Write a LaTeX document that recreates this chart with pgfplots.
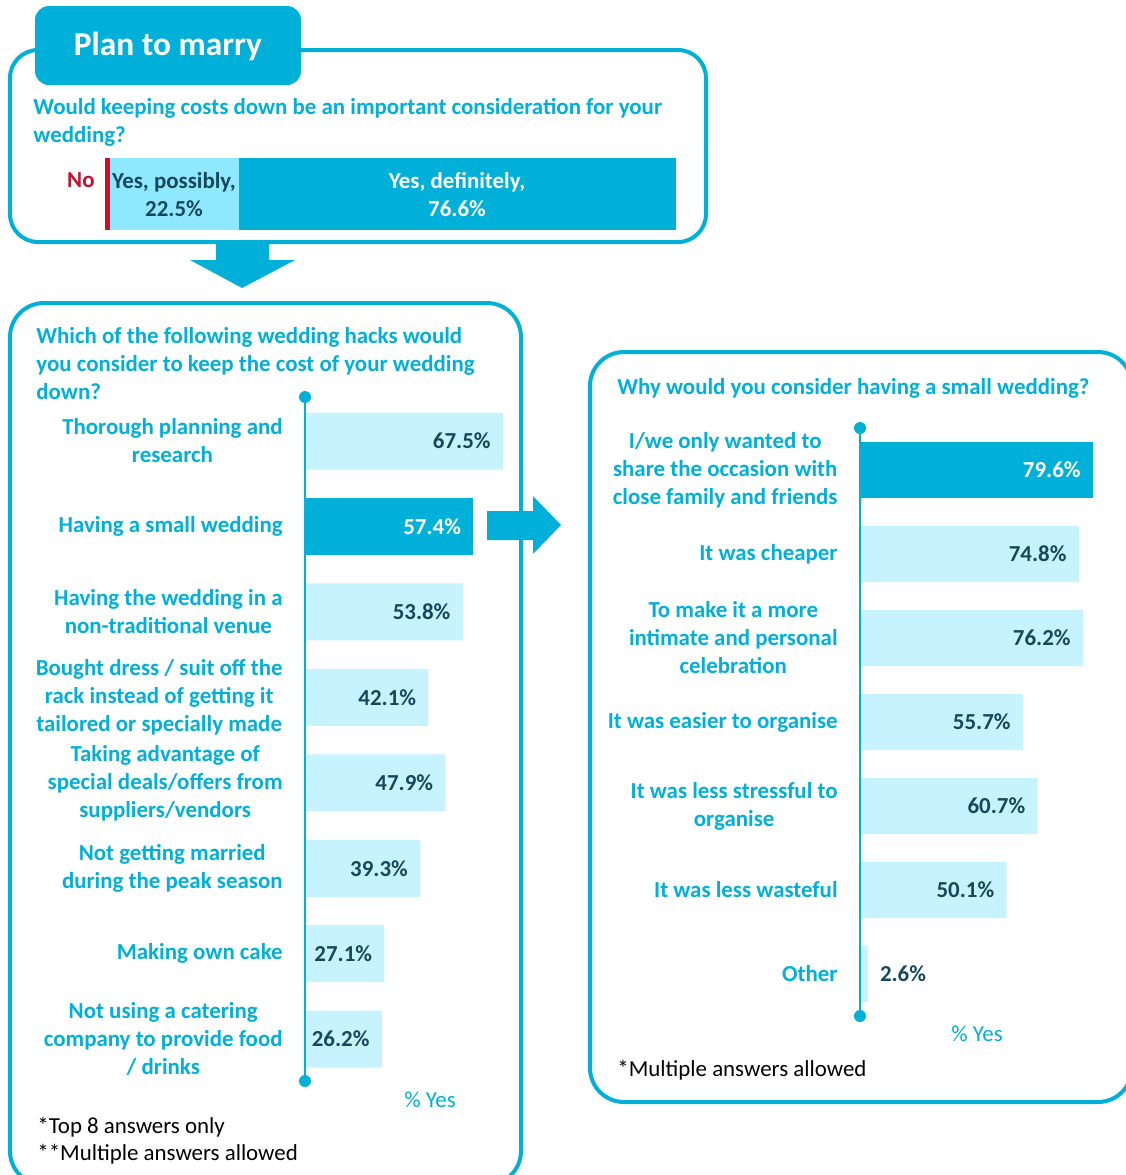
\documentclass[border=0pt]{standalone}
\usepackage{fontspec}
\setmainfont{Carlito}
\usepackage{pgfplots}
\pgfplotsset{compat=1.18}
\definecolor{cy}{RGB}{0,176,216}
\definecolor{lb}{RGB}{199,243,255}
\definecolor{lbb}{RGB}{142,232,255}
\definecolor{dk}{RGB}{22,72,90}
\definecolor{rd}{RGB}{200,16,46}
\newcommand\lbl{\fontsize{11.45}{14}\selectfont\bfseries}
\newcommand\reg{\fontsize{11.45}{14}\selectfont}
\pgfplotsset{hbar/.style={xbar, bar shift=0pt, scale only axis,
  axis x line*=bottom, axis y line*=left, axis line style={draw=none},
  xtick=\empty, ytick style={draw=none}, major tick length=0pt,
  y dir=reverse, clip=false, point meta=x,
  yticklabel style={font=\lbl, text=cy, align=center, anchor=east, inner sep=0pt, xshift=-11pt},
  nodes near coords={\pgfmathprintnumber[fixed,fixed zerofill,precision=1,assume math mode=true]{\pgfplotspointmeta}\%},
  nodes near coords style={font=\lbl, text=dk, anchor=east, inner sep=0pt, xshift=-6pt}}}
\begin{document}
\begin{tikzpicture}
\useasboundingbox (0,0) rectangle (563pt,-587.5pt);
\clip (0,0) rectangle (563pt,-587.5pt);
\begin{scope}[x=0.5pt,y=-0.5pt]
% frames
\draw[cy, line width=2pt, rounded corners=14pt] (10,50) rectangle (706,242);
\fill[cy, rounded corners=7pt] (35,6) rectangle (301,85);
\node[text=white, font=\fontsize{16.7}{19}\selectfont\bfseries] at (168,46) {Plan to marry};
\fill[cy] (216,242) -- (269,242) -- (269,260) -- (295,260) -- (242,288) -- (190,260) -- (216,260) -- cycle;
\draw[cy, line width=2pt, rounded corners=17pt] (10,303) rectangle (521,1185);
\fill[cy] (487,511) -- (533,511) -- (533,496) -- (561,525) -- (533,554) -- (533,540) -- (487,540) -- cycle;
\draw[cy, line width=2pt, rounded corners=17pt] (590,352) rectangle (1132,1102);
% texts
\node[anchor=base west, text=cy, font=\lbl, inner sep=0pt] at (33,114) {Would keeping costs down be an important consideration for your};
\node[anchor=base west, text=cy, font=\lbl, inner sep=0pt] at (33,142) {wedding?};
\node[anchor=base east, text=rd, font=\lbl, inner sep=0pt] at (95,187) {No};
\node[anchor=base west, text=cy, font=\lbl, inner sep=0pt] at (36,343) {Which of the following wedding hacks would};
\node[anchor=base west, text=cy, font=\lbl, inner sep=0pt] at (36,371) {you consider to keep the cost of your wedding};
\node[anchor=base west, text=cy, font=\lbl, inner sep=0pt] at (36,399) {down?};
\node[anchor=base, text=cy, font=\reg, inner sep=0pt] at (430,1107) {\% Yes};
\node[anchor=base west, font=\reg, inner sep=0pt] at (37,1133) {*Top 8 answers only};
\node[anchor=base west, font=\reg, inner sep=0pt] at (37,1160) {**Multiple answers allowed};
\node[anchor=base west, text=cy, font=\lbl, inner sep=0pt] at (617,394) {Why would you consider having a small wedding?};
\node[anchor=base, text=cy, font=\reg, inner sep=0pt] at (977,1041) {\% Yes};
\node[anchor=base west, font=\reg, inner sep=0pt] at (617,1076) {*Multiple answers allowed};
\end{scope}

% top stacked bar
\begin{axis}[xbar stacked, at={(52.5pt,-79pt)}, anchor=north west, scale only axis,
  width=285.5pt, height=36pt, xmin=0, xmax=100, ymin=-0.5, ymax=0.5,
  bar width=36pt, hide axis, clip=false]
\addplot[fill=rd, draw=none] coordinates {(0.9,0)};
\addplot[fill=lbb, draw=none] coordinates {(22.5,0)};
\addplot[fill=cy, draw=none] coordinates {(76.6,0)};
\end{axis}

\begin{scope}[x=0.5pt,y=-0.5pt]
\node[anchor=base, text=dk, font=\lbl, inner sep=0pt] at (174,188) {Yes, possibly,};
\node[anchor=base, text=dk, font=\lbl, inner sep=0pt] at (174,216) {22.5\%};
\node[anchor=base, text=white, font=\lbl, inner sep=0pt] at (457,188) {Yes, definitely,};
\node[anchor=base, text=white, font=\lbl, inner sep=0pt] at (457,216) {76.6\%};
\end{scope}

% left chart
\begin{axis}[hbar, at={(152.5pt,-198.5pt)}, anchor=north west,
  width=102.67pt, height=342pt, xmin=0, xmax=70, ymin=-0.515, ymax=7.49,
  bar width=28.5pt, ytick={0,...,7},
  yticklabels={{Thorough planning and\\research},{Having a small wedding},{Having the wedding in a\\non-traditional venue},{Bought dress / suit off the\\rack instead of getting it\\tailored or specially made},{Taking advantage of\\special deals/offers from\\suppliers/vendors},{Not getting married\\during the peak season},{Making own cake},{Not using a catering\\company to provide food\\/ drinks}}]
\addplot[fill=lb, draw=none, bar shift=0pt] coordinates {(67.5,0) (53.8,2) (42.1,3) (47.9,4) (39.3,5) (27.1,6) (26.2,7)};
\addplot[fill=cy, draw=none, bar shift=0pt, nodes near coords style={text=white}] coordinates {(57.4,1)};
\end{axis}

% right chart
\begin{axis}[hbar, at={(430pt,-214pt)}, anchor=north west,
  width=120pt, height=294pt, xmin=0, xmax=82, ymin=-0.5, ymax=6.5,
  bar width=28pt, ytick={0,...,6},
  yticklabels={{I/we only wanted to\\share the occasion with\\close family and friends},{It was cheaper},{To make it a more\\intimate and personal\\celebration},{It was easier to organise},{It was less stressful to\\organise},{It was less wasteful},{Other}}]
\addplot[fill=cy, draw=none, bar shift=0pt, nodes near coords style={text=white}] coordinates {(79.6,0)};
\addplot[fill=lb, draw=none, bar shift=0pt] coordinates {(74.8,1) (76.2,2) (55.7,3) (60.7,4) (50.1,5)};
\addplot[fill=lb, draw=none, bar shift=0pt, nodes near coords style={anchor=west, xshift=12pt}] coordinates {(2.6,6)};
\end{axis}

\begin{scope}[x=0.5pt,y=-0.5pt]
\draw[cy, line width=1pt] (305,397) -- (305,1081);
\fill[cy] (305,397) circle (3pt);
\fill[cy] (305,1081) circle (3pt);
\draw[cy, line width=1pt] (860,428) -- (860,1016);
\fill[cy] (860,428) circle (3pt);
\fill[cy] (860,1016) circle (3pt);
\end{scope}
\end{tikzpicture}
\end{document}
